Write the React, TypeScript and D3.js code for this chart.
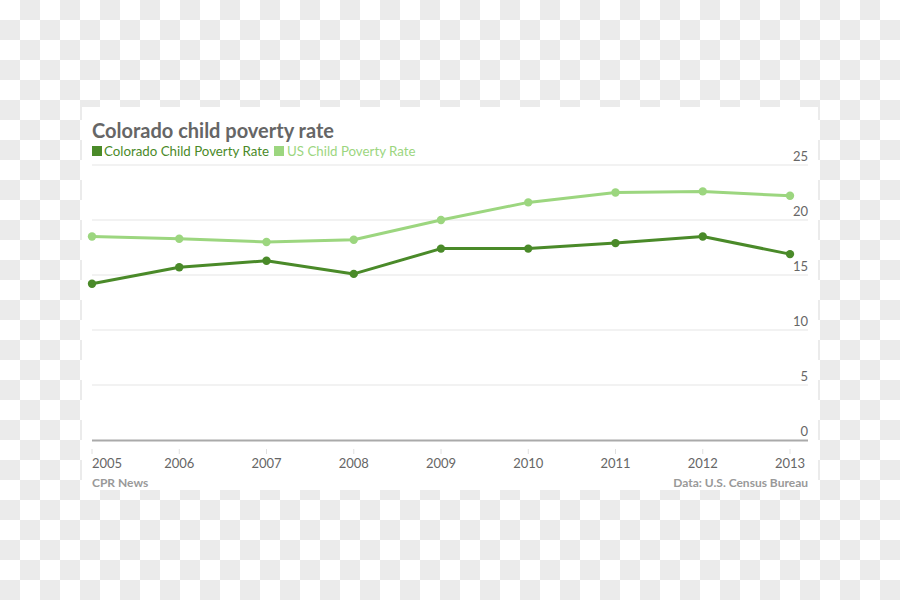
import React from "react";
import * as d3 from "d3";

const years = [2005, 2006, 2007, 2008, 2009, 2010, 2011, 2012, 2013];
const coloradoRate = [14.2, 15.7, 16.3, 15.1, 17.4, 17.4, 17.9, 18.5, 16.9];
const usRate = [18.5, 18.3, 18.0, 18.2, 20.0, 21.6, 22.5, 22.6, 22.2];
const yTicks = [0, 5, 10, 15, 20, 25];
const seriesNames = ["Colorado Child Poverty Rate", "US Child Poverty Rate"];
const title = "Colorado child poverty rate";
const sourceLeft = "CPR News";
const sourceRight = "Data: U.S. Census Bureau";

const W = 900;
const H = 600;
const FONT = "Lato, 'Open Sans', sans-serif";
const DARK = "#4a8a29";
const LIGHT = "#9cd67f";

export default function App() {
  const x = d3.scaleLinear().domain([2005, 2013]).range([92, 790]);
  const y = d3.scaleLinear().domain([0, 25]).range([440, 165]);
  const line = d3
    .line<number>()
    .x((_, i) => x(years[i]))
    .y((d) => y(d));

  const cells: JSX.Element[] = [];
  for (let r = 0; r < H / 20; r++) {
    for (let c = 0; c < W / 20; c++) {
      if ((r + c) % 2 === 1) {
        cells.push(<rect key={`${r}-${c}`} x={c * 20} y={r * 20} width={20} height={20} fill="#ebebeb" />);
      }
    }
  }

  const series = [
    { name: seriesNames[1], values: usRate, color: LIGHT },
    { name: seriesNames[0], values: coloradoRate, color: DARK },
  ];

  return (
    <svg
      width={W}
      height={H}
      style={{ position: "fixed", left: 0, top: 0, background: "#ffffff" }}
      fontFamily={FONT}
    >
      <rect x={0} y={0} width={W} height={H} fill="#ffffff" />
      {cells}
      <rect x={82} y={107} width={736} height={383} fill="#ffffff" />

      <text x={92} y={138} fontSize={20} fontWeight={700} fill="#666666">
        {title}
      </text>
      <rect x={92} y={146} width={10} height={10} fill={DARK} />
      <text x={104} y={156} fontSize={13.3} fill={DARK}>
        {seriesNames[0]}
      </text>
      <rect x={274} y={146} width={10} height={10} fill={LIGHT} />
      <text x={287} y={156} fontSize={13.3} fill={LIGHT}>
        {seriesNames[1]}
      </text>

      {yTicks.map((t) => (
        <g key={t}>
          {t !== 0 && (
            <line x1={92} x2={808} y1={y(t)} y2={y(t)} stroke="#e5e5e5" strokeWidth={1} />
          )}
          <text x={808} y={y(t) - 4} textAnchor="end" fontSize={13} fill="#666666">
            {t}
          </text>
        </g>
      ))}
      <line x1={92} x2={808} y1={y(0) + 0.5} y2={y(0) + 0.5} stroke="#aaaaaa" strokeWidth={2} />

      {years.map((yr, i) => (
        <g key={yr}>
          <line x1={x(yr)} x2={x(yr)} y1={449} y2={454} stroke="#e0e0e0" strokeWidth={1} />
          <text
            x={x(yr)}
            y={468}
            textAnchor={i === 0 ? "start" : "middle"}
            fontSize={13}
            fill="#666666"
          >
            {yr}
          </text>
        </g>
      ))}

      {series.map((s) => (
        <g key={s.name}>
          <path d={line(s.values) || ""} fill="none" stroke={s.color} strokeWidth={3} strokeLinejoin="round" />
          {s.values.map((v, i) => (
            <circle key={i} cx={x(years[i])} cy={y(v)} r={4.2} fill={s.color} />
          ))}
        </g>
      ))}

      <text x={92} y={487} fontSize={12} fontWeight={700} fill="#999999">
        {sourceLeft}
      </text>
      <text x={808} y={487} textAnchor="end" fontSize={12} fontWeight={700} fill="#999999">
        {sourceRight}
      </text>
    </svg>
  );
}
